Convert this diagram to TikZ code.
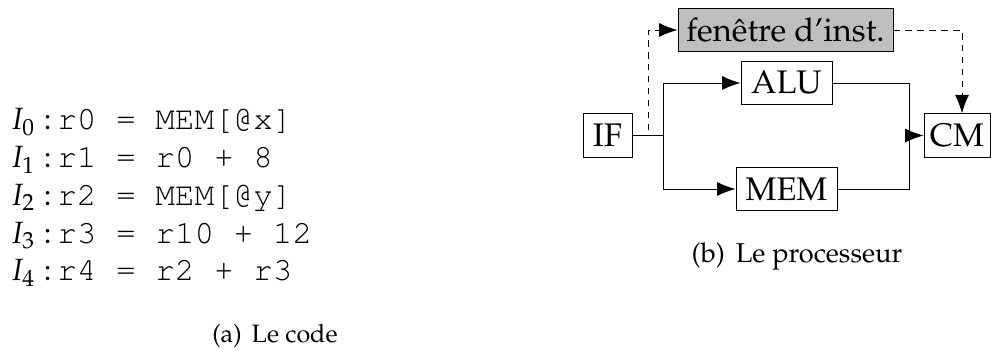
\documentclass[tikz,border=0pt]{standalone}
\usepackage[T1]{fontenc}
\usepackage{mathpazo}
\usepackage{courier}
\usetikzlibrary{arrows.meta,positioning}

\begin{document}
\begin{tikzpicture}[>={Latex[length=10.5pt,width=8pt]},line width=0.55pt,
  codeline/.style={anchor=base west,inner sep=0pt,font=\fontsize{18.6}{22}\selectfont},
  box/.style={draw,font=\fontsize{18.6}{22}\selectfont,minimum height=0.87cm,inner xsep=3pt},
  caption/.style={anchor=base,inner sep=0pt},
  dashline/.style={dash pattern=on 3.6pt off 3.2pt}]
\useasboundingbox (0,0) rectangle (19.82,7.02);

% the instruction listing
\foreach \i/\txt in {0/{r0 = MEM[@x]},1/{r1 = r0 + 8},2/{r2 = MEM[@y]},3/{r3 = r10 + 12},4/{r4 = r2 + r3}}
  \node[codeline] (i\i) at (0.2,{4.42-0.755*\i}) {{\fontsize{17.5}{20}\selectfont$I_{\i}:$}\,\texttt{\txt}};
\node[caption,font=\fontsize{14.3}{17}\selectfont] (capa) at (5.5,0.16) {(a)\hspace{0.4em}Le code};

% pipeline
\node[box,minimum width=0.98cm] (IF) at (12.15,4.31) {IF};
\node[box,minimum width=1.82cm] (ALU) at (15.73,5.36) {ALU};
\node[box,minimum width=2.02cm] (MEM) at (15.73,3.24) {MEM};
\node[box,minimum width=1.32cm] (CM) at (19.14,4.31) {CM};
\node[box,minimum width=4.3cm,fill=gray!50] (win) at (15.71,6.42) {fen\^etre d'inst.};

\coordinate (split) at (13.26,4.31);
\coordinate (tap) at (12.96,4.31);
\coordinate (merge) at (18.18,4.31);
\draw (IF.east) -- (split);
\draw[->] (split) |- (ALU.west);
\draw[->] (split) |- (MEM.west);
\draw (ALU.east) -| (merge);
\draw (MEM.east) -| (merge);
\draw[->] (merge) -- (CM.west);
\draw[->,dashline] ([yshift=3pt]tap) |- (win.west);
\draw[->,dashline] (win.east) -| ([xshift=1mm]CM.north);

\node[caption,font=\fontsize{15.5}{19}\selectfont] (capb) at (15.94,1.76) {(b)\hspace{0.4em}Le processeur};
\end{tikzpicture}
\end{document}
